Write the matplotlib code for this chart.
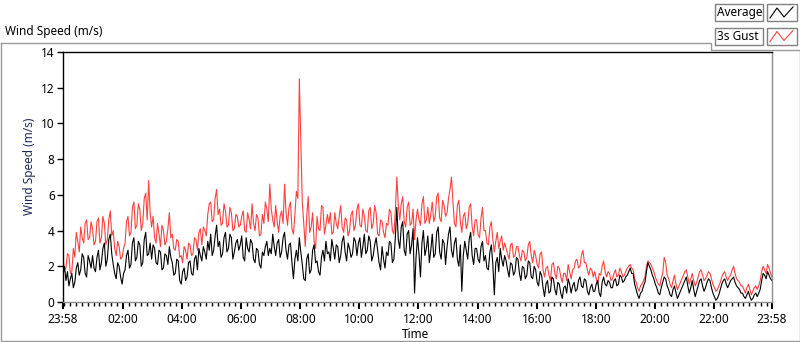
import matplotlib
matplotlib.use("Agg")
import matplotlib.pyplot as plt
from matplotlib.lines import Line2D
from matplotlib.patches import Rectangle
import numpy as np

plt.rcParams['font.family'] = ['Noto Sans', 'DejaVu Sans']

# one sample every 3 minutes, starting 23:58 (20 samples per hour row)
step_min = 3

average = [
    1.5, 2.0, 1.2, 1.7, 0.9, 1.3, 1.6, 0.8, 1.1, 1.9, 2.2, 1.5, 1.8, 2.7, 2.5, 1.6, 1.4, 2.6, 2.3, 1.9,
    2.6, 1.9, 1.7, 2.5, 2.9, 1.8, 2.2, 3.0, 3.3, 2.0, 2.4, 3.5, 3.8, 2.7, 2.1, 1.6, 1.3, 2.2, 2.0, 1.4,
    1.0, 1.6, 1.8, 2.6, 2.9, 1.9, 2.1, 3.3, 3.6, 2.3, 2.5, 3.4, 3.2, 2.0, 2.2, 3.5, 3.9, 2.6, 2.7, 3.3,
    2.4, 3.2, 3.0, 2.2, 2.1, 2.9, 2.8, 1.8, 1.9, 2.7, 2.6, 2.1, 3.1, 2.5, 2.2, 1.5, 1.6, 2.4, 2.3, 1.2,
    1.0, 1.7, 1.9, 1.2, 1.4, 2.2, 2.3, 1.6, 1.5, 2.4, 2.6, 1.8, 3.0, 2.6, 2.3, 3.1, 2.8, 2.4, 3.4, 2.9,
    3.8, 2.6, 2.9, 3.7, 4.3, 3.1, 3.4, 2.5, 2.7, 3.6, 3.9, 2.8, 3.0, 3.8, 3.6, 2.4, 2.8, 3.3, 3.5, 2.9,
    3.2, 3.7, 2.5, 2.3, 3.6, 3.0, 2.8, 3.5, 3.3, 2.4, 2.2, 3.0, 2.9, 2.1, 1.9, 2.8, 2.6, 3.1, 3.4, 2.6,
    3.0, 2.7, 3.8, 3.1, 2.6, 3.3, 3.5, 2.5, 2.8, 3.6, 3.9, 2.9, 2.4, 3.2, 3.3, 2.2, 1.3, 2.4, 2.9, 2.3,
    3.6, 2.8, 2.1, 1.3, 1.2, 2.4, 2.7, 1.6, 1.8, 2.9, 3.2, 2.2, 2.3, 1.7, 1.5, 2.5, 2.9, 2.3, 3.4, 2.7,
    2.8, 2.3, 3.5, 3.0, 2.4, 3.2, 3.1, 2.2, 2.6, 3.4, 3.7, 2.8, 2.3, 3.3, 3.0, 2.5, 2.7, 3.6, 3.4, 2.6,
    3.3, 3.6, 2.5, 3.1, 3.8, 2.7, 2.9, 3.7, 3.4, 2.3, 2.6, 3.2, 3.6, 2.9, 2.2, 1.8, 3.1, 2.4, 1.9, 2.8,
    2.6, 3.4, 3.3, 2.2, 2.4, 3.6, 5.3, 3.5, 3.0, 4.2, 4.5, 2.9, 2.6, 3.8, 4.0, 2.7, 3.2, 4.1, 0.5, 2.5,
    3.6, 2.7, 1.4, 3.3, 4.0, 2.6, 3.0, 3.7, 2.2, 2.9, 3.8, 2.5, 2.7, 3.9, 4.2, 2.8, 2.4, 3.5, 3.3, 2.1,
    3.1, 3.8, 4.2, 2.9, 2.5, 3.3, 3.6, 2.4, 2.0, 3.2, 0.6, 2.6, 3.4, 2.9, 2.4, 3.5, 3.9, 2.6, 2.1, 3.0,
    3.0, 2.4, 2.2, 3.1, 3.4, 2.3, 2.6, 1.9, 1.8, 2.8, 3.2, 2.1, 0.4, 2.2, 2.5, 1.7, 3.0, 2.4, 2.0, 2.6,
    2.3, 1.8, 1.4, 2.2, 2.1, 1.5, 1.7, 2.5, 2.4, 1.6, 1.2, 2.0, 1.9, 1.3, 1.5, 2.3, 2.2, 1.4, 1.3, 2.0,
    1.8, 1.1, 0.9, 1.7, 1.5, 0.8, 0.3, 1.0, 1.2, 0.5, 0.6, 1.4, 1.3, 0.7, 0.4, 1.1, 1.0, 0.5, 0.2, 0.8,
    0.9, 0.5, 1.3, 1.0, 0.5, 0.9, 1.1, 0.6, 0.7, 1.2, 1.4, 0.9, 0.8, 1.3, 1.2, 0.6, 0.4, 0.8, 1.0, 0.6,
    0.6, 1.0, 1.2, 0.5, 0.3, 1.1, 1.4, 1.0, 0.9, 1.2, 1.1, 0.8, 0.8, 1.2, 1.3, 0.9, 1.0, 1.5, 1.4, 1.1,
    1.2, 1.4, 1.5, 1.7, 1.9, 1.6, 1.6, 1.0, 0.7, 0.4, 0.2, 0.5, 0.6, 0.9, 1.1, 1.7, 2.2, 2.0, 1.8, 1.5,
    1.3, 1.0, 0.8, 0.5, 0.4, 0.8, 1.1, 1.4, 1.3, 0.9, 0.7, 0.4, 0.3, 0.7, 0.9, 0.5, 0.2, 0.4, 0.6, 0.8,
    1.0, 1.2, 1.4, 0.9, 0.5, 0.8, 1.2, 0.7, 0.3, 0.6, 0.9, 1.2, 1.3, 0.9, 0.6, 0.8, 1.1, 1.3, 1.2, 0.8,
    0.5, 0.3, 0.1, 0.2, 0.4, 0.7, 1.0, 1.2, 1.3, 1.0, 0.8, 1.0, 1.2, 1.3, 1.4, 1.1, 0.9, 0.8, 0.7, 0.5,
    0.5, 0.3, 0.2, 0.4, 0.6, 0.3, 0.1, 0.2, 0.4, 0.5, 0.3, 0.5, 0.7, 1.2, 1.6, 1.5, 1.3, 1.7, 1.5, 1.3,
    1.2,
]

gust = [
    2.4, 1.8, 1.9, 2.7, 2.6, 1.6, 1.7, 3.0, 2.5, 3.9, 3.4, 2.8, 4.2, 3.6, 3.3, 4.4, 4.6, 3.5, 3.6, 4.5,
    4.1, 3.2, 3.4, 4.5, 4.7, 3.3, 3.6, 4.8, 4.4, 3.2, 3.5, 4.6, 5.1, 3.7, 4.0, 3.0, 2.6, 3.4, 3.1, 2.4,
    2.5, 3.0, 3.3, 4.5, 4.8, 3.7, 3.9, 5.3, 5.6, 4.1, 4.3, 5.5, 5.2, 4.0, 4.4, 5.8, 6.1, 4.6, 6.8, 5.0,
    4.2, 4.8, 3.6, 3.3, 4.4, 3.8, 3.1, 4.3, 4.0, 3.2, 3.4, 4.1, 5.0, 3.6, 3.8, 3.0, 2.9, 3.5, 3.4, 2.5,
    2.6, 2.2, 3.1, 2.9, 2.4, 3.3, 3.2, 2.6, 2.7, 3.6, 3.5, 2.9, 3.9, 4.1, 3.2, 4.2, 4.0, 3.7, 4.9, 5.5,
    5.6, 4.5, 4.6, 5.8, 6.3, 4.9, 5.2, 4.3, 4.4, 5.5, 5.1, 4.2, 4.3, 5.3, 5.0, 4.0, 4.1, 4.9, 4.8, 4.2,
    4.3, 4.8, 5.1, 4.0, 3.9, 5.0, 4.6, 4.1, 5.5, 4.4, 4.0, 4.9, 4.7, 3.7, 3.8, 4.9, 4.4, 5.6, 5.2, 4.5,
    6.6, 5.2, 4.6, 4.2, 5.4, 4.5, 3.9, 4.8, 5.1, 4.4, 6.6, 5.0, 4.3, 5.3, 5.6, 4.1, 3.8, 4.9, 6.2, 5.8,
    12.5, 9.1, 5.6, 4.4, 3.1, 4.8, 5.9, 3.9, 4.2, 5.0, 3.4, 3.0, 4.8, 4.1, 4.0, 5.4, 5.3, 3.8, 4.3, 4.9,
    4.4, 5.0, 3.8, 3.9, 5.0, 4.4, 4.1, 4.8, 5.4, 4.2, 3.9, 4.7, 4.6, 3.7, 4.0, 4.9, 5.1, 4.0, 4.3, 5.2,
    5.5, 4.3, 4.2, 5.2, 4.8, 4.0, 3.9, 5.1, 5.3, 4.1, 4.4, 5.4, 5.0, 3.8, 3.7, 4.6, 4.5, 3.9, 3.6, 4.4,
    4.3, 5.2, 5.0, 4.0, 3.8, 5.1, 7.0, 5.4, 4.6, 5.5, 5.9, 4.5, 4.2, 5.3, 5.6, 4.3, 4.4, 5.2, 3.5, 4.6,
    5.2, 4.6, 4.3, 5.5, 5.9, 4.4, 4.6, 5.3, 4.4, 4.9, 5.6, 4.5, 4.8, 5.9, 6.1, 4.7, 4.5, 5.7, 5.4, 4.8,
    5.0, 5.8, 6.3, 7.0, 5.6, 4.4, 4.2, 5.4, 5.7, 4.5, 3.9, 4.8, 5.0, 4.1, 4.4, 5.3, 5.5, 4.2, 3.7, 4.6,
    4.6, 3.8, 3.6, 4.7, 5.3, 4.0, 4.0, 3.3, 3.2, 4.2, 4.5, 3.5, 2.8, 3.4, 3.9, 3.0, 3.4, 3.7, 2.9, 3.3,
    3.0, 2.7, 2.4, 3.2, 3.3, 2.5, 2.6, 3.1, 3.1, 2.6, 2.3, 2.9, 2.8, 2.3, 2.5, 3.2, 3.4, 2.6, 2.2, 2.9,
    2.6, 2.1, 1.9, 2.7, 2.8, 1.8, 1.4, 1.9, 2.0, 1.5, 1.2, 2.1, 2.2, 1.6, 1.3, 2.0, 1.9, 1.4, 1.1, 1.6,
    1.6, 1.2, 2.1, 1.7, 1.3, 1.8, 1.9, 2.3, 2.4, 1.9, 2.0, 2.6, 2.9, 2.2, 2.2, 1.8, 1.5, 1.9, 1.8, 1.4,
    1.7, 1.3, 1.0, 1.6, 1.5, 2.0, 2.3, 1.7, 1.4, 1.7, 1.6, 1.2, 1.3, 1.6, 1.8, 1.4, 1.5, 1.9, 1.7, 1.4,
    1.5, 1.7, 1.9, 2.0, 2.1, 1.9, 1.8, 1.3, 1.1, 0.8, 0.6, 0.9, 1.0, 1.2, 1.4, 2.0, 2.3, 2.2, 2.1, 1.9,
    1.7, 1.4, 1.2, 1.0, 0.9, 1.3, 1.6, 2.5, 2.2, 1.5, 1.3, 1.0, 0.8, 1.2, 1.5, 1.0, 0.7, 0.9, 1.1, 1.3,
    1.5, 1.7, 1.8, 1.4, 1.0, 1.3, 1.6, 1.2, 0.9, 1.1, 1.4, 1.7, 1.8, 1.5, 1.2, 1.3, 1.5, 1.7, 1.6, 1.3,
    1.0, 0.8, 0.6, 0.7, 0.9, 1.1, 1.4, 1.6, 1.7, 1.4, 1.2, 1.4, 1.5, 1.8, 2.0, 1.6, 1.3, 1.2, 1.1, 0.9,
    0.9, 0.7, 0.5, 0.8, 1.0, 0.7, 0.4, 0.6, 0.8, 0.9, 0.7, 0.9, 1.2, 1.7, 2.0, 1.8, 1.6, 2.1, 1.9, 1.6,
    1.4,
]

tick_minutes = [0, 122, 242, 362, 482, 602, 722, 842, 962, 1082, 1202, 1322, 1440]
tick_labels = ["23:58", "02:00", "04:00", "06:00", "08:00", "10:00", "12:00",
               "14:00", "16:00", "18:00", "20:00", "22:00", "23:58"]

t_avg = np.arange(len(average)) * step_min
t_gust = np.arange(len(gust)) * step_min
print(len(average), len(gust))

W, H = 800, 342
fig = plt.figure(figsize=(W / 100, H / 100), dpi=100)
ax = fig.add_axes([63 / W, 1 - 302 / H, 709 / W, 250 / H])

ax.plot(t_gust, gust, color='#ff4040', lw=0.8)
ax.plot(t_avg, average, color='black', lw=0.8)

ax.set_xlim(0, 1440)
ax.set_ylim(0, 14)
ax.set_yticks(range(0, 15, 2))
ax.set_xticks(tick_minutes)
ax.set_xticklabels(tick_labels)
ax.set_xticks([m for m in range(2, 1440, 12) if m not in tick_minutes], minor=True)
ax.tick_params(axis='both', labelsize=8.5, direction='out', width=1, colors='black')
ax.tick_params(axis='x', which='major', length=5, width=1.5, pad=3)
ax.tick_params(axis='x', which='minor', length=3, width=1)
ax.tick_params(axis='y', length=4, pad=2)

for s in ['top', 'left']:
    ax.spines[s].set_color('black')
for s in ['bottom', 'right']:
    ax.spines[s].set_color('#8c8c8c')
for s in ax.spines.values():
    s.set_linewidth(1)

fig.text(30 / W, 1 - 166 / H, "Wind Speed (m/s)", rotation=90, fontsize=8.5,
         color='#1a2a5a', ha='center', va='center')
fig.text(415 / W, 1 - 334 / H, "Time", fontsize=8.5, ha='center', va='center')
fig.text(5 / W, 1 - 32 / H, "Wind Speed (m/s)", fontsize=8.5, ha='left', va='center')

# outer chart frame
grey = '#9a9a9a'
def fline(xs, ys, c=grey):
    fig.add_artist(Line2D([x / W for x in xs], [1 - y / H for y in ys], color=c, lw=1))

fline([0.5, 711, 711, 799.5, 799.5, 0.5, 0.5], [42.5, 42.5, 49.5, 49.5, 341, 341, 42.5])

# legend boxes
for row, (name, col) in enumerate([("Average", 'black'), ("3s Gust", '#ff4040')]):
    y0 = 4 + row * 23.5
    fig.add_artist(Rectangle((715 / W, 1 - (y0 + 17) / H), 48 / W, 17 / H,
                             transform=fig.transFigure, fc='white', ec='#808080', lw=1))
    fig.text(717 / W, 1 - (y0 + 8.5) / H, name, fontsize=8.5, ha='left', va='center')
    fig.add_artist(Rectangle((767 / W, 1 - (y0 + 17) / H), 30 / W, 17 / H,
                             transform=fig.transFigure, fc='white', ec='#808080', lw=1))
    sx = [770, 777, 784, 793]
    sy = [y0 + 14, y0 + 4, y0 + 13, y0 + 3]
    fig.add_artist(Line2D([x / W for x in sx], [1 - y / H for y in sy], color=col, lw=0.8))

fig.savefig("out.png", dpi=100)
